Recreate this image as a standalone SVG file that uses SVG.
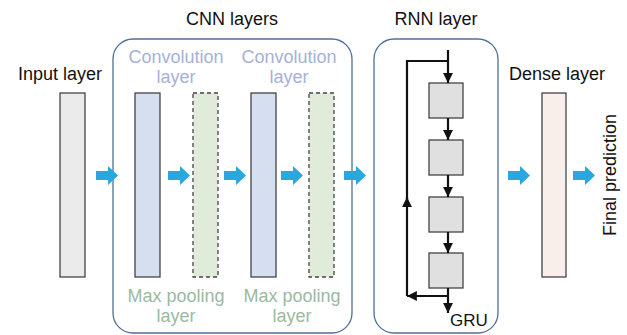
<svg xmlns="http://www.w3.org/2000/svg" width="627" height="335" viewBox="0 0 627 335">
  <style>
    text { font-family: "Liberation Sans", Arial, sans-serif; font-size: 18px; }
    .title { fill: #111; }
    .conv-label { fill: #a7b1d6; text-anchor: middle; }
    .pool-label { fill: #9bb9a2; text-anchor: middle; }
    .group-box { fill: none; stroke: #4d709a; stroke-width: 1.3; }
    .layer { stroke: #444; stroke-width: 1.3; }
    .input { fill: #ebebeb; }
    .conv { fill: #d6dff0; }
    .pool { fill: #e1ebd9; stroke-dasharray: 4 3; }
    .dense { fill: #f9efea; }
    .gru { fill: #e0e0e0; stroke: #444; stroke-width: 1.3; }
    .flow { fill: #29a8e0; }
    .wire { fill: none; stroke: #111; stroke-width: 2.2; }
  </style>
  <defs>
    <marker id="head" viewBox="0 0 10 10" refX="10" refY="5" markerWidth="4.5" markerHeight="4.5" orient="auto" markerUnits="strokeWidth">
      <path d="M0,0 L10,5 L0,10 z" fill="#111"/>
    </marker>
    <polygon id="flow-arrow" points="0,-4.5 12,-4.5 12,-9.5 22,0 12,9.5 12,4.5 0,4.5"/>
  </defs>

  <!-- group boxes -->
  <g id="cnn-block">
    <rect class="group-box" x="113" y="39" width="239" height="294" rx="20"/>
    <text class="title" x="232" y="25" text-anchor="middle">CNN layers</text>
  </g>
  <g id="rnn-block">
    <rect class="group-box" x="374" y="39" width="124" height="294" rx="20"/>
    <text class="title" x="436" y="25" text-anchor="middle">RNN layer</text>
  </g>

  <g id="input-layer">
    <rect class="layer input" x="60" y="93" width="25" height="184"/>
    <text class="title" x="60" y="80" text-anchor="middle">Input layer</text>
  </g>

  <g id="conv1">
    <rect class="layer conv" x="135" y="93" width="25" height="184"/>
    <text class="conv-label" x="176" y="63">Convolution</text>
    <text class="conv-label" x="176" y="83">layer</text>
  </g>
  <g id="pool1">
    <rect class="layer pool" x="193" y="93" width="25" height="184"/>
    <text class="pool-label" x="176" y="302">Max pooling</text>
    <text class="pool-label" x="176" y="322">layer</text>
  </g>
  <g id="conv2">
    <rect class="layer conv" x="251" y="93" width="25" height="184"/>
    <text class="conv-label" x="289" y="63">Convolution</text>
    <text class="conv-label" x="289" y="83">layer</text>
  </g>
  <g id="pool2">
    <rect class="layer pool" x="309" y="93" width="25" height="184"/>
    <text class="pool-label" x="292" y="302">Max pooling</text>
    <text class="pool-label" x="292" y="322">layer</text>
  </g>

  <g id="gru-cells">
    <rect class="gru" x="429" y="83" width="34" height="35"/>
    <rect class="gru" x="429" y="140" width="34" height="35"/>
    <rect class="gru" x="429" y="197" width="34" height="35"/>
    <rect class="gru" x="429" y="253" width="34" height="35"/>
    <text class="title" x="450" y="326" style="font-size:17px">GRU</text>
  </g>

  <g id="dense-layer">
    <rect class="layer dense" x="542" y="93" width="24" height="184"/>
    <text class="title" x="557" y="80" text-anchor="middle">Dense layer</text>
  </g>

  <g id="final-prediction">
    <text class="title" transform="translate(616,175) rotate(-90)" text-anchor="middle">Final prediction</text>
  </g>

  <g id="connectors">
    <!-- data flow between stages -->
    <use href="#flow-arrow" class="flow" x="96" y="175.5"/>
    <use href="#flow-arrow" class="flow" x="168" y="175.5"/>
    <use href="#flow-arrow" class="flow" x="224" y="175.5"/>
    <use href="#flow-arrow" class="flow" x="281" y="175.5"/>
    <use href="#flow-arrow" class="flow" x="344" y="175.5"/>
    <use href="#flow-arrow" class="flow" x="508" y="175.5"/>
    <use href="#flow-arrow" class="flow" x="573" y="175.5"/>

    <!-- recurrent wiring -->
    <path class="wire" d="M448,50 V83" marker-end="url(#head)"/>
    <path class="wire" d="M448,118 V140" marker-end="url(#head)"/>
    <path class="wire" d="M448,175 V197" marker-end="url(#head)"/>
    <path class="wire" d="M448,232 V253" marker-end="url(#head)"/>
    <path class="wire" d="M448,288 V313" marker-end="url(#head)"/>
    <path class="wire" d="M448,296 H407" marker-end="url(#head)"/>
    <path class="wire" d="M407,296 V197" marker-end="url(#head)"/>
    <path class="wire" d="M407,200 V61 H448"/>
  </g>
</svg>
